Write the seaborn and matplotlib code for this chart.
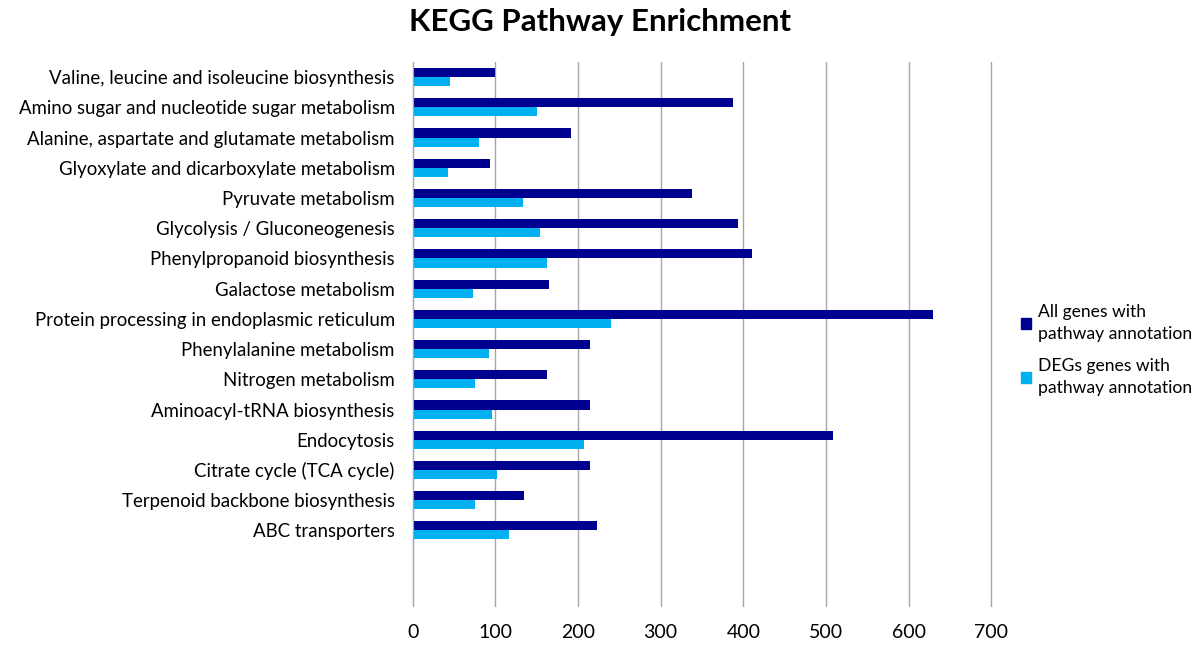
import pandas as pd
import seaborn as sns
import matplotlib.pyplot as plt
from matplotlib.patches import Patch

pathways = [
    'Valine, leucine and isoleucine biosynthesis',
    'Amino sugar and nucleotide sugar metabolism',
    'Alanine, aspartate and glutamate metabolism',
    'Glyoxylate and dicarboxylate metabolism',
    'Pyruvate metabolism',
    'Glycolysis / Gluconeogenesis',
    'Phenylpropanoid biosynthesis',
    'Galactose metabolism',
    'Protein processing in endoplasmic reticulum',
    'Phenylalanine metabolism',
    'Nitrogen metabolism',
    'Aminoacyl-tRNA biosynthesis',
    'Endocytosis',
    'Citrate cycle (TCA cycle)',
    'Terpenoid backbone biosynthesis',
    'ABC transporters',
]
all_genes = [100, 387, 191, 93, 338, 393, 410, 165, 629, 215, 162, 214, 509, 215, 135, 223]
deg_genes = [45, 150, 80, 43, 133, 154, 162, 73, 240, 92, 75, 96, 207, 102, 75, 116]
series = ['All genes with\npathway annotation', 'DEGs genes with\npathway annotation']
colors = ['#000090', '#00B0F0']

df = pd.DataFrame({
    'pathway': pathways * 2,
    'count': all_genes + deg_genes,
    'series': [series[0]] * len(pathways) + [series[1]] * len(pathways),
})

sns.set_style('white')
plt.rcParams['font.family'] = ['Lato', 'DejaVu Sans']
plt.rcParams['text.color'] = 'black'
plt.rcParams['xtick.color'] = 'black'
plt.rcParams['ytick.color'] = 'black'

fig = plt.figure(figsize=(12, 6.46), dpi=100)
ax = fig.add_axes([0.344, 0.062, 0.482, 0.842])

sns.barplot(data=df, y='pathway', x='count', hue='series', order=pathways,
            hue_order=series, palette=colors, orient='h', width=0.6,
            saturation=1, linewidth=0, ax=ax, legend=False)

ax.set_ylim(17.5, -0.5)
ax.set_xlim(0, 700)
ax.set_xticks(range(0, 701, 100))
ax.grid(axis='x', color='#A6A6A6', linewidth=1)
for line in ax.get_xgridlines():
    line.set_clip_on(False)
ax.set_axisbelow(True)
for s in ['top', 'right', 'bottom']:
    ax.spines[s].set_visible(False)
ax.spines['left'].set_color('#A6A6A6')
ax.tick_params(axis='y', length=0, labelsize=13.4, pad=13)
ax.tick_params(axis='x', length=0, labelsize=14, pad=13)
ax.set_xlabel('')
ax.set_ylabel('')

fig.text(0.5, 0.966, 'KEGG Pathway Enrichment', ha='center', va='center',
         fontsize=22.5, fontweight='bold')

handles = [Patch(color=c, label=s) for c, s in zip(colors, series)]
leg = fig.legend(handles=handles, loc='center left', bbox_to_anchor=(0.851, 0.458),
                 frameon=False, fontsize=12.6, handlelength=0.55, handleheight=0.55,
                 handletextpad=0.4, labelspacing=0.9, borderpad=0, borderaxespad=0)
for t in leg.get_texts():
    t.set_linespacing(1.45)

fig.savefig('out.png', dpi=100)
